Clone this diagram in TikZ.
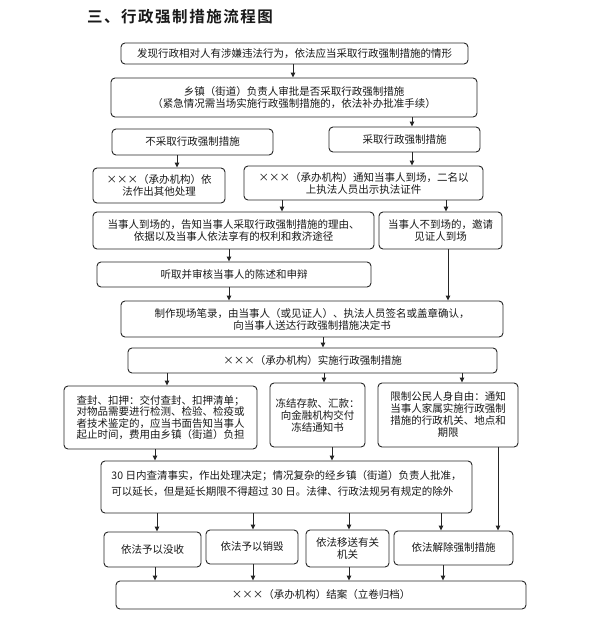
\documentclass[tikz,border=0pt]{standalone}
\usepackage{fontspec}
\newfontfamily\cjk{Noto Sans CJK SC}[BoldFont={Noto Sans CJK SC Bold}]
\usetikzlibrary{arrows.meta}
\begin{document}
\begin{tikzpicture}[x=1pt,y=-1pt,
  box/.style={draw=black!85, line width=0.9pt, rounded corners=4pt, inner sep=0pt,
    align=center, font=\cjk\fontsize{10.5}{12}\selectfont, text=black!90},
  sz/.style 2 args={minimum width=#1, minimum height=#2},
  arr/.style={draw=black!85, line width=0.9pt, -{Triangle[length=5pt,width=4.5pt]}},
  ttl/.style={font=\cjk\bfseries\fontsize{15.5}{18}\selectfont\addfontfeature{LetterSpace=10}, text=black!90}]
\useasboundingbox (0,0) rectangle (590,643);
\fill[white] (0,0) rectangle (590,643);

\node[ttl] (title) at (180,17) {三、行政强制措施流程图};

\node[box, sz={347}{21}] (b1) at (294.5,53.5) {发现行政相对人有涉嫌违法行为，依法应当采取行政强制措施的情形};
\node[box, sz={366}{39}] (b2) at (294,97.5) {乡镇（街道）负责人审批是否采取行政强制措施\\（紧急情况需当场实施行政强制措施的，依法补办批准手续）};
\node[box, sz={161}{26}] (b3) at (192.5,142) {不采取行政强制措施};
\node[box, sz={151}{25}] (b4) at (404.5,139.5) {采取行政强制措施};
\node[box, sz={132}{35}] (b5) at (159,185.5) {×××（承办机构）依\\法作出其他处理};
\node[box, sz={239}{34}] (b6) at (363.5,183) {×××（承办机构）通知当事人到场，二名以\\上执法人员出示执法证件};
\node[box, sz={281}{37}] (b7) at (233.5,230.5) {当事人到场的，告知当事人采取行政强制措施的理由、\\依据以及当事人依法享有的权利和救济途径};
\node[box, sz={123}{37}] (b8) at (440.5,230.5) {当事人不到场的，邀请\\见证人到场};
\node[box, sz={274}{25}] (b9) at (234,274.5) {听取并审核当事人的陈述和申辩};
\node[box, sz={382}{36}] (b10) at (312,319) {制作现场笔录，由当事人（或见证人）、执法人员签名或盖章确认，\\向当事人送达行政强制措施决定书};
\node[box, sz={369}{25}] (b11) at (312.5,360.5) {×××（承办机构）实施行政强制措施};
\node[box, sz={193}{63}, align=left, font=\cjk\fontsize{10.5}{11.2}\selectfont] (b12) at (160.5,417.5) {查封、扣押：交付查封、扣押清单；\\对物品需要进行检测、检验、检疫或\\者技术鉴定的，应当书面告知当事人\\起止时间，费用由乡镇（街道）负担};
\node[box, sz={95}{64}] (b13) at (317.5,415) {冻结存款、汇款：\\向金融机构交付\\冻结通知书};
\node[box, sz={140}{64}] (b14) at (448,415) {限制公民人身自由：通知\\当事人家属实施行政强制\\措施的行政机关、地点和\\期限};
\node[box, sz={371}{52}, align=left, font=\cjk\fontsize{10.5}{16}\selectfont] (b15) at (286.5,487) {30 日内查清事实，作出处理决定；情况复杂的经乡镇（街道）负责人批准，\\可以延长，但是延长期限不得超过 30 日。法律、行政法规另有规定的除外\\[-8pt]\mbox{}};
\node[box, sz={97}{35}] (b16) at (152.5,549.5) {依法予以没收};
\node[box, sz={92}{34}] (b17) at (252,547) {依法予以销毁};
\node[box, sz={83}{37}] (b18) at (347.5,548.5) {依法移送有关\\机关};
\node[box, sz={119}{34}] (b19) at (453.5,548) {依法解除强制措施};
\node[box, sz={410}{28}] (b20) at (321,595) {×××（承办机构）结案（立卷归档）};

% x positions of connectors
\coordinate (x293) at (293,0);
\coordinate (x412) at (412,0);
\coordinate (x177) at (177,0);
\coordinate (x282) at (282,0);
\coordinate (x446) at (446,0);
\coordinate (x229) at (229,0);
\coordinate (x448) at (448,0);
\coordinate (x323) at (323,0);
\coordinate (x167) at (167,0);
\coordinate (x324) at (324,0);
\coordinate (x462) at (462,0);
\coordinate (x155) at (155,0);
\coordinate (x332) at (332,0);
\coordinate (x498) at (498,0);
\coordinate (x157) at (157,0);
\coordinate (x253) at (253,0);
\coordinate (x349) at (349,0);
\coordinate (x441) at (441,0);
\coordinate (x443) at (443,0);

\draw[arr] (b1.south -| x293) -- (b2.north -| x293);
\draw[arr] (b2.south -| x412) -- (b4.north -| x412);
\draw[arr] (b3.south -| x177) -- (b5.north -| x177);
\draw[arr] (b4.south -| x412) -- (b6.north -| x412);
\draw[arr] (b6.south -| x282) -- (b7.north -| x282);
\draw[arr] (b6.south -| x446) -- (b8.north -| x446);
\draw[arr] (b7.south -| x229) -- (b9.north -| x229);
\draw[arr] (b9.south -| x229) -- (b10.north -| x229);
\draw[arr] (b8.south -| x448) -- (b10.north -| x448);
\draw[arr] (b10.south -| x323) -- (b11.north -| x323);
\draw[arr] (b11.south -| x167) -- (b12.north -| x167);
\draw[arr] (b11.south -| x324) -- (b13.north -| x324);
\draw[arr] (b11.south -| x462) -- (b14.north -| x462);
\draw[arr] (b12.south -| x155) -- (b15.north -| x155);
\draw[arr] (b13.south -| x332) -- (b15.north -| x332);
\draw[arr] (b14.south -| x498) -- (b19.north -| x498);
\draw[arr] (b15.south -| x157) -- (b16.north -| x157);
\draw[arr] (b15.south -| x253) -- (b17.north -| x253);
\draw[arr] (b15.south -| x349) -- (b18.north -| x349);
\draw[arr] (b15.south -| x441) -- (b19.north -| x441);
\draw[arr] (b16.south -| x155) -- (b20.north -| x155);
\draw[arr] (b17.south -| x253) -- (b20.north -| x253);
\draw[arr] (b18.south -| x349) -- (b20.north -| x349);
\draw[arr] (b19.south -| x443) -- (b20.north -| x443);
\end{tikzpicture}
\end{document}
